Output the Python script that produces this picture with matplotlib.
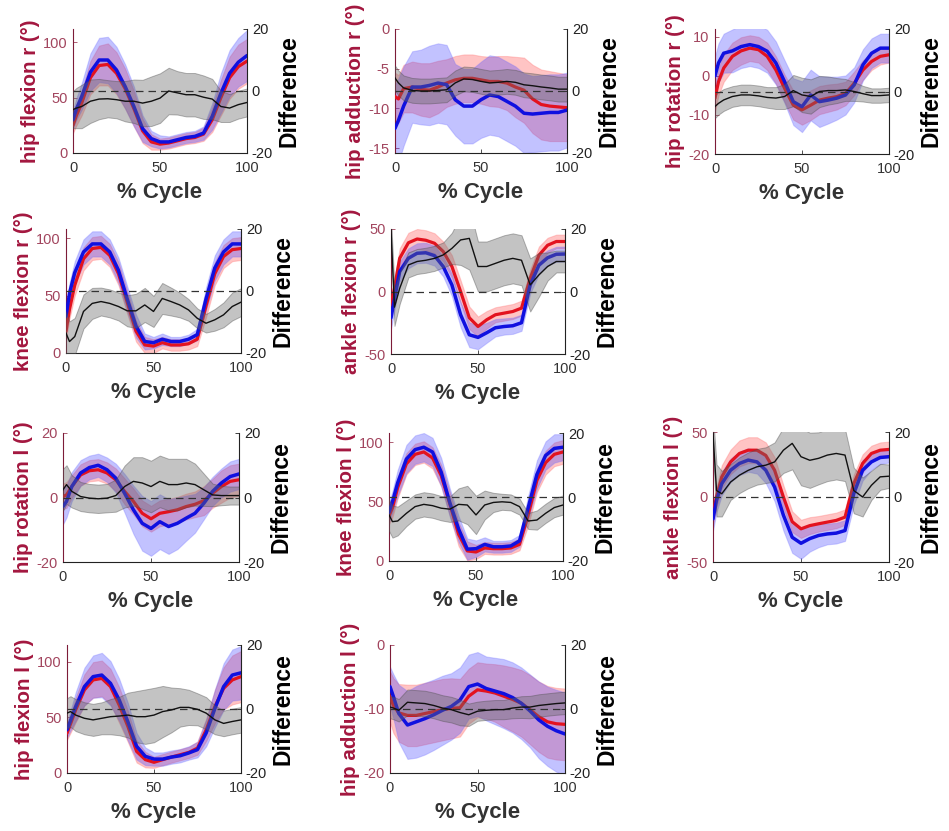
import matplotlib
matplotlib.use('Agg')
import matplotlib.pyplot as plt
import numpy as np

plt.rcParams['font.family'] = ['Liberation Sans', 'DejaVu Sans']
plt.rcParams['axes.unicode_minus'] = False

# ---------------- data (x = % gait cycle) ----------------
cycle = [0, 2, 5, 10, 15, 20, 25, 30, 35, 40, 45, 50, 55, 60, 65, 70, 75, 80, 85, 90, 95, 100]

# hip flexion r
hfr_blue = [30, 40, 51, 73, 84, 84, 75, 60, 42, 22, 13, 10, 10, 12, 14, 15, 18, 33, 54, 72, 82, 88]
hfr_blue_sd = [8, 10, 12, 17, 20, 21, 21, 20, 18, 12, 7, 6, 5, 5, 5, 5, 6, 12, 18, 21, 22, 23]
hfr_red = [25, 34, 45, 68, 79, 80, 72, 58, 40, 20, 10, 8, 9, 11, 13, 14, 17, 30, 50, 68, 78, 83]
hfr_red_sd = [7, 9, 11, 15, 18, 19, 19, 18, 16, 11, 7, 5, 5, 5, 5, 5, 6, 11, 16, 19, 20, 20]
hfr_diff = [-6, -5.5, -5, -3.3, -2.6, -2.5, -2.8, -3.3, -3.3, -3.9, -3.3, -2.3, 0, -0.6, -1.2, -1.2, -2, -2.6, -5, -5.5, -4.4, -3.7]
hfr_diff_sd = [6, 6.5, 7, 7, 6.5, 6, 6, 6.5, 7, 7.5, 8, 8, 7.5, 7, 7, 7, 7, 6.5, 5, 4.5, 4.5, 4.5]

# hip adduction r
har_blue = [-12.5, -11.5, -9.7, -7.3, -7.3, -7.1, -6.8, -7.0, -8.9, -9.7, -9.7, -8.9, -8.3, -8.5, -9.1, -9.7, -10.6, -10.7, -10.6, -10.5, -10.5, -10.2]
har_blue_sd = [5.5, 5.3, 5, 4.5, 4.7, 5, 5, 5, 4.5, 4.7, 4.7, 4.8, 5, 5, 5, 5, 5, 4.8, 4.8, 4.8, 4.8, 4.7]
har_red = [-8.5, -8.8, -7.5, -7.3, -7.6, -7.7, -7.3, -6.8, -6.4, -6.2, -6.2, -6.4, -6.6, -6.6, -6.8, -7.3, -7.7, -8.8, -9.5, -9.7, -9.8, -9.9]
har_red_sd = [3, 3, 3, 3.2, 3.3, 3.4, 3.3, 3, 3, 3, 3, 3, 3.1, 3.2, 3.4, 3.8, 4.1, 4.3, 4.4, 4.4, 4.3, 4.2]
har_diff = [4.2, 2.6, 1, 0.2, 0, 0, 0.2, 0.4, 2.6, 3.9, 3.7, 3.1, 2.6, 2.8, 3.1, 2.8, 2, 1.7, 1.3, 1, 0.6, 0.6]
har_diff_sd = [4, 4, 4, 4, 4, 4, 4, 4, 4, 4, 4, 4, 4, 4, 4, 4, 4, 4, 4, 4, 4, 4]

# hip rotation r
hrr_blue = [0, 3.3, 5.8, 6.4, 7.5, 8, 7.5, 6.3, 3.3, -1.5, -6.6, -7.9, -4.9, -6.6, -6.2, -5.7, -4.9, -2.3, 2.8, 5.8, 7.1, 7.1]
hrr_blue_sd = [5, 5, 5, 5.5, 5.5, 5.5, 5.5, 5.5, 5.5, 5.5, 6, 6.5, 6.5, 6.5, 6, 5.5, 5, 4.5, 4, 3.8, 3.7, 3.7]
hrr_red = [-5.7, -1.5, 2, 5, 6.4, 7.1, 6.7, 5, 1.5, -3.2, -7.5, -8.7, -7.5, -6.2, -5.7, -5.3, -4.5, -1.9, 1.5, 3.7, 5, 5.4]
hrr_red_sd = [3.5, 3.5, 3.5, 3.5, 3.5, 3.3, 3.3, 3.5, 3.5, 3.5, 3.7, 3.8, 3.8, 3.6, 3.5, 3.3, 3, 3, 2.5, 2.2, 2.1, 2]
hrr_diff = [-4.8, -3.8, -2.7, -1.6, -1.1, -1.1, -1.4, -1.9, -2.1, -1.6, 0.3, -1.1, -1.6, 0, 0.3, 0.3, 0.5, 0, -0.7, -1.3, -1.3, -1.1]
hrr_diff_sd = [3.7, 3.6, 3.5, 3.3, 3.3, 3.3, 3.3, 3.3, 3.5, 4, 5, 5.5, 5.5, 5, 4.5, 4, 3.5, 3, 2.5, 2.3, 2.3, 2.3]

# knee flexion r
kfr_blue = [32, 52, 70, 88, 95, 95, 88, 72, 47, 23.5, 10, 9, 12, 10, 10, 12, 16, 47, 74, 88, 95, 95]
kfr_blue_sd = [8, 9, 10, 11, 11, 11, 11, 11, 11, 10, 7, 5, 5, 4, 4, 4, 5, 10, 11, 11, 11, 11]
kfr_red = [19, 38, 59, 82, 91, 92, 85, 69, 44, 19, 7, 6, 9, 7, 7, 8, 12, 41, 69, 84, 90, 91]
kfr_red_sd = [7, 8, 9, 10, 10, 10, 10, 10, 10, 9, 7, 6, 5, 5, 5, 5, 6, 10, 10, 10, 10, 10]
kfr_diff = [-13.6, -16.3, -14.7, -6.6, -4, -3.4, -4, -5, -6.4, -6.4, -4.5, -6.6, -2.4, -3.4, -4.5, -6.1, -8.8, -10.4, -9.3, -7.7, -5, -3.6]
kfr_diff_sd = [7, 6.5, 6, 5.5, 5, 4.5, 4.5, 4.5, 5, 5.5, 5.5, 5, 5, 4.5, 4, 3.5, 3.2, 3, 3.5, 4, 4.5, 4.5]

# ankle flexion r
afr_blue = [-21, -6, 16, 26.6, 30.6, 31, 28.7, 20, 5.3, -18.6, -34.6, -36.7, -33, -29, -28, -27.4, -25, 5.3, 21, 27, 29.8, 30]
afr_blue_sd = [9, 9, 8, 8, 8, 8, 8, 8, 9, 10, 10, 9.5, 8, 7, 6.5, 6.5, 6.5, 7, 7, 6, 6, 6]
afr_red = [-10.6, 2.7, 26.6, 39, 42, 41, 38.6, 32, 20, 0, -21, -28, -22.6, -18.6, -17.3, -16, -13.3, 10.6, 29, 37, 40, 40]
afr_red_sd = [8, 8, 8, 8, 8, 8, 8, 8, 9, 9, 9, 8, 7, 6, 6, 6, 6, 7, 7, 6, 5.5, 5.5]
afr_diff = [19.7, -5, 1, 8.5, 9.6, 10, 10.6, 11.7, 13.8, 16.5, 17, 8, 8, 9, 10, 10.6, 10, 2.1, 5.3, 8, 9.6, 9.6]
afr_diff_sd = [4, 6, 5, 4, 4, 4, 4, 4, 5, 8, 10, 8, 8, 8, 8, 8, 8, 8.5, 7, 4.5, 3.5, 3.5]

# hip rotation l
hrl_blue = [-2.8, -1.2, 3.4, 7.6, 9.3, 10, 8.6, 6, 1.3, -3.8, -8, -9.6, -7.5, -9, -8, -6.4, -4.9, -1.8, 1.9, 4.5, 6.5, 7.3]
hrl_blue_sd = [5.5, 5, 4.5, 4, 3.7, 3.6, 3.8, 4.5, 6, 7.5, 8.5, 8.5, 8.5, 8.5, 8, 7, 6, 5, 4.5, 4.5, 4.7, 4.7]
hrl_red = [0.3, 0.8, 3.4, 7, 8.3, 8.6, 7.6, 5.5, 1.9, -1.2, -4.9, -6.6, -4.9, -4.4, -3.8, -2.8, -2.1, -1, 1.3, 3.4, 5, 5.5]
hrl_red_sd = [4, 4, 3.5, 3.3, 3.3, 3.3, 3.3, 3.5, 4, 4, 4, 4, 4, 4, 4, 4, 4, 4.5, 4.5, 5, 5, 5]
hrl_diff = [2.4, 4, 1.9, 0.3, -0.2, -0.4, -0.2, 0.6, 3.4, 5, 4.5, 3.4, 5, 4, 4, 4.5, 4, 2.4, 0.8, 0.6, 0.6, 0.6]
hrl_diff_sd = [6.5, 6, 5, 4.5, 4.4, 4.4, 4.4, 5, 6.5, 7.5, 8, 8, 8, 8, 8, 7.5, 6.5, 5, 3.5, 3, 2.8, 2.8]

# knee flexion l
kfl_blue = [41, 50, 66, 86, 94, 96, 92, 75, 49, 27, 10, 10.4, 14, 12, 12, 12.7, 17, 45, 73, 89, 95, 96]
kfl_blue_sd = [8, 9, 11, 12, 12, 12, 12, 12, 12, 11, 9, 7, 6, 5, 5, 5, 5, 10, 12, 12, 12, 11]
kfl_red = [38, 45, 62, 82, 90, 92, 87, 72, 48, 22.5, 8.5, 7.6, 11, 10.4, 10.4, 11, 14, 39, 68, 83, 90, 92]
kfl_red_sd = [7, 8, 9, 9, 9, 9, 9, 9, 10, 10, 8, 6, 5, 5, 5, 5, 5, 9, 10, 10, 10, 10]
kfl_diff = [-5.6, -7.7, -7.5, -5.1, -3, -2.3, -2.7, -3.5, -3.8, -2.3, -2.5, -5.6, -2.5, -1.7, -1.5, -1.7, -3, -7.5, -7.2, -5.1, -3.3, -2.5]
kfl_diff_sd = [5, 5, 4.5, 4, 3.8, 3.8, 3.8, 3.8, 4, 5, 6, 6, 4.5, 3, 2.5, 2.5, 2.5, 2.5, 3, 3, 3, 3]

# ankle flexion l
afl_blue = [-16.8, -2.6, 10.3, 20.6, 25.8, 28.4, 27, 20.6, 7.7, -14, -31, -35.6, -32, -29.6, -28.4, -27.8, -25.8, 2.6, 20.6, 27, 30.4, 31]
afl_blue_sd = [9, 9, 9, 9, 9, 9, 9, 10, 11, 12, 12, 12, 10, 9, 8, 8, 8, 9, 8, 6, 5, 4.5]
afl_red = [-13, 0, 15.5, 27, 33.5, 36, 36, 32, 20.6, 0, -19, -24.5, -22, -20.6, -19.3, -18, -15.5, 10.3, 25.8, 33.5, 36, 36.6]
afl_red_sd = [8, 8, 9, 9.5, 10, 10, 10, 10, 10, 9, 8, 7, 6.5, 6, 6, 6, 6, 7, 7, 6, 6, 6]
afl_diff = [19.6, 2, 1, 4.6, 6.7, 8.2, 9.3, 9.8, 10.8, 14.4, 16.5, 12.4, 11.3, 11.9, 12.9, 13.4, 12.9, 2, 0, 3.6, 6.2, 6.4]
afl_diff_sd = [6, 8, 7, 5.5, 5.5, 5.5, 5.5, 5.5, 6, 7, 8, 8.8, 8.5, 8, 8, 8, 8, 7, 6, 4.5, 4, 3.6]

# hip flexion l
hfl_blue = [38.8, 47, 59.7, 77.6, 86.6, 88, 80.6, 65.7, 46, 24, 15, 12.5, 12.5, 14.3, 15.5, 18, 21, 36, 58, 77.6, 88, 90]
hfl_blue_sd = [7, 9, 13, 17, 19, 20, 20, 19, 17, 12, 8, 6, 6, 6, 6, 6, 7, 12, 17, 21, 23, 24]
hfl_red = [35.8, 44, 56.7, 74.6, 83.6, 85, 77.6, 61, 41.8, 19.4, 12, 9.6, 12, 14.3, 16.4, 18.5, 22.4, 38.8, 59.7, 76, 83.6, 86.6]
hfl_red_sd = [6, 8, 11, 14, 16, 16, 16, 16, 14, 10, 7, 5, 5, 5, 5, 5, 6, 10, 15, 19, 22, 23]
hfl_diff = [-1.3, -0.8, -1.9, -2.9, -3.4, -2.9, -2.4, -2.2, -1.9, -2.4, -2.4, -1.9, -0.8, -0.3, 0.5, 0.5, -0.1, -1.3, -3.4, -4.5, -3.9, -3.4]
hfl_diff_sd = [4.7, 4.8, 5, 5, 5, 5, 5.5, 6, 7, 8, 8.5, 8.5, 8, 7, 6, 5.5, 5, 5, 4.5, 4, 4, 4]

# hip adduction l
hal_blue = [-6.5, -8.1, -10.7, -12.5, -12, -11.5, -10.9, -10.2, -9.6, -8.6, -6.5, -6.1, -6.8, -7.2, -7.6, -8.2, -9.1, -10.3, -11.7, -12.7, -13.4, -13.9]
hal_blue_sd = [3.1, 3.5, 4.5, 5.3, 5.6, 5.6, 5.5, 5.4, 5.2, 5.1, 5, 5, 5, 5.2, 5.4, 5.5, 5.6, 5.7, 6, 6.2, 6.4, 6.5]
hal_red = [-8.1, -9.5, -10.6, -11, -11, -10.7, -10.4, -10.1, -9.9, -9.8, -8, -7, -7.2, -7.5, -8, -8.5, -9.1, -10.1, -11.2, -12, -12.3, -12.4]
hal_red_sd = [4, 4.3, 4.5, 4.8, 4.8, 4.8, 4.8, 4.8, 4.7, 4.5, 4.3, 4.3, 4.3, 4.5, 4.8, 5, 5.2, 5.4, 5.5, 5.6, 5.6, 5.6]
hal_diff = [0.6, 0.3, -0.4, 2.1, 1.9, 1.7, 1.1, 0.3, -0.2, -1.1, -1.8, -0.7, -0.4, -0.2, -0.2, 0.3, 0.6, 0.6, 1.1, 1.4, 1.7, 1.9]
hal_diff_sd = [3.5, 3.5, 3.5, 4, 4, 4, 4, 4, 4, 4, 3.5, 3, 3, 3, 3, 3.2, 3.4, 3.5, 3.5, 3.5, 3.5, 3.5]

y_labels = ['hip flexion r (°)', 'hip adduction r (°)', 'hip rotation r (°)',
            'knee flexion r (°)', 'ankle flexion r (°)',
            'hip rotation l (°)', 'knee flexion l (°)', 'ankle flexion l (°)',
            'hip flexion l (°)', 'hip adduction l (°)']
y_limits = [(0, 112), (-15.6, 0), (-20, 12), (0, 108), (-50, 50),
            (-20, 20), (0, 108), (-50, 50), (0, 115), (-20, 0)]
y_ticks = [[0, 50, 100], [-15, -10, -5, 0], [-20, -10, 0, 10], [0, 50, 100], [-50, 0, 50],
           [-20, 0, 20], [0, 50, 100], [-50, 0, 50], [0, 50, 100], [-20, -10, 0]]
x_ticks = [0, 50, 100]
diff_ticks = [-20, 0, 20]
diff_label = 'Difference'
x_label = '% Cycle'

series = [
    (hfr_red, hfr_red_sd, hfr_blue, hfr_blue_sd, hfr_diff, hfr_diff_sd),
    (har_red, har_red_sd, har_blue, har_blue_sd, har_diff, har_diff_sd),
    (hrr_red, hrr_red_sd, hrr_blue, hrr_blue_sd, hrr_diff, hrr_diff_sd),
    (kfr_red, kfr_red_sd, kfr_blue, kfr_blue_sd, kfr_diff, kfr_diff_sd),
    (afr_red, afr_red_sd, afr_blue, afr_blue_sd, afr_diff, afr_diff_sd),
    (hrl_red, hrl_red_sd, hrl_blue, hrl_blue_sd, hrl_diff, hrl_diff_sd),
    (kfl_red, kfl_red_sd, kfl_blue, kfl_blue_sd, kfl_diff, kfl_diff_sd),
    (afl_red, afl_red_sd, afl_blue, afl_blue_sd, afl_diff, afl_diff_sd),
    (hfl_red, hfl_red_sd, hfl_blue, hfl_blue_sd, hfl_diff, hfl_diff_sd),
    (hal_red, hal_red_sd, hal_blue, hal_blue_sd, hal_diff, hal_diff_sd),
]

# axes boxes in pixels (left, top, right, bottom)
boxes = [(73, 29, 247, 153), (395, 29, 567, 153), (715, 29, 889, 154),
         (66, 229, 241, 353), (391, 229, 565, 354),
         (63, 433, 239, 562), (389, 433, 563, 561), (713, 432, 889, 562),
         (67, 645, 241, 773), (390, 645, 565, 773)]

W, H = 949, 831
fig = plt.figure(figsize=(W / 100, H / 100), dpi=100)

LBL_RED = '#a3173f'
TICK_RED = '#a2455e'
SPINE_RED = '#7d1c38'
RED = '#e3121f'
BLUE = '#1010e0'

x = np.array(cycle, dtype=float)
for i, (lab, ylim, yt, ser, box) in enumerate(zip(y_labels, y_limits, y_ticks, series, boxes)):
    l, t, r, b = box
    ax = fig.add_axes([l / W, 1 - b / H, (r - l) / W, (b - t) / H])
    red, red_sd, blue, blue_sd, diff, diff_sd = [np.array(s, dtype=float) for s in ser]

    ax.fill_between(x, red - red_sd, red + red_sd, facecolor='#ff4848', alpha=0.32,
                    edgecolor='#ff7070', linewidth=0.8, zorder=1)
    ax.fill_between(x, blue - blue_sd, blue + blue_sd, facecolor='#3535ff', alpha=0.30,
                    edgecolor='#7070ff', linewidth=0.8, zorder=2)
    ax.plot(x, red, color=RED, lw=2.3, zorder=3, solid_capstyle='round')
    ax.plot(x, blue, color=BLUE, lw=2.5, zorder=4, solid_capstyle='round')

    ax.set_xlim(0, 100)
    ax.set_ylim(*ylim)
    ax.set_xticks(x_ticks)
    ax.set_yticks(yt)
    ax.tick_params(axis='y', colors=TICK_RED, labelsize=10.5, direction='in', length=3, width=0.6, pad=4)
    ax.tick_params(axis='x', colors='#333333', labelsize=10.5, direction='in', length=3, width=0.6, pad=6)
    ax.spines['top'].set_visible(False)
    ax.spines['left'].set_color(SPINE_RED)
    ax.spines['bottom'].set_color('#222222')
    ax.spines['right'].set_visible(False)
    ax.set_ylabel(lab, color=LBL_RED, fontsize=14.8, fontweight='bold', labelpad=2)
    ax.set_xlabel(x_label, color='#333333', fontsize=16, fontweight='bold', labelpad=5)

    ax2 = ax.twinx()
    ax2.fill_between(x, diff - diff_sd, diff + diff_sd, facecolor='#6a6a6a', alpha=0.40,
                     edgecolor='#4a4a4a', linewidth=0.7, zorder=1)
    ax2.plot(x, diff, color='#111111', lw=1.0, zorder=3)
    ax2.axhline(0, color='#333333', lw=0.9, ls=(0, (6, 4)), zorder=2)
    ax2.set_ylim(-20, 20)
    ax2.set_yticks(diff_ticks)
    ax2.tick_params(axis='y', colors='#222222', labelsize=10.5, direction='in', length=3, width=0.6)
    ax2.spines['top'].set_visible(False)
    ax2.spines['left'].set_visible(False)
    ax2.spines['bottom'].set_visible(False)
    ax2.spines['right'].set_color('#222222')
    ax2.set_ylabel(diff_label, color='black', fontsize=16.5, fontweight='bold', labelpad=3)

fig.savefig('out.png', dpi=100)
